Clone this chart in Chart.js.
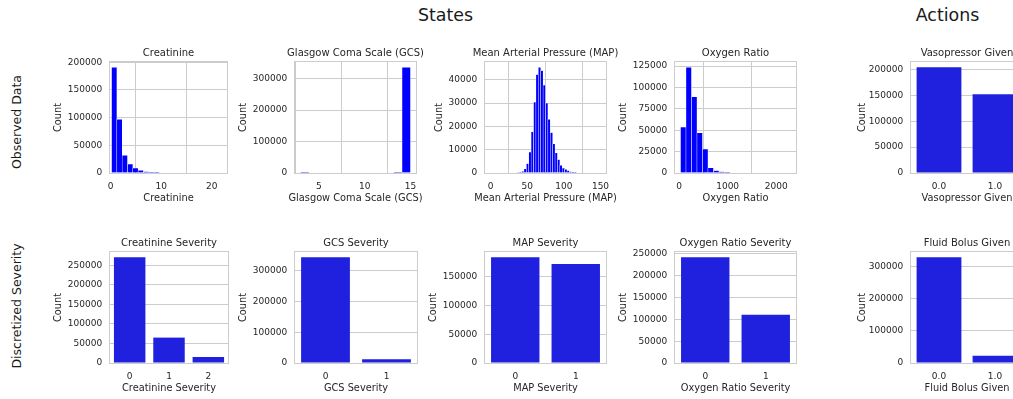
<!DOCTYPE html>
<html>
<head>
<meta charset="utf-8">
<script src="https://cdn.jsdelivr.net/npm/chart.js@4.4.1/dist/chart.umd.min.js"></script>
<style>
  html, body { margin: 0; padding: 0; background: #ffffff; }
  #fig { position: relative; width: 1013px; height: 399px; overflow: hidden; background: #ffffff; }
  #fig canvas { position: absolute; }
  .txt { position: absolute; white-space: nowrap; line-height: 1; color: #1a1a1a;
         font-family: 'DejaVu Sans', sans-serif; transform: translate(-50%, -50%); }
  .rot { transform: translate(-50%, -50%) rotate(-90deg); }
</style>
</head>
<body>
<div id="fig">
  <div class="txt" style="left:445.5px; top:16px; font-size:17.4px;">States</div>
  <div class="txt" style="left:947.5px; top:16px; font-size:17.4px;">Actions</div>
  <div class="txt rot" style="left:17px; top:122px; font-size:12.5px;">Observed Data</div>
  <div class="txt rot" style="left:17px; top:306px; font-size:12.5px;">Discretized Severity</div>
</div>
<script>
// ---- Observed data: histogram bin centres and counts ----
const creatinineBins = [0.73, 1.78, 2.83, 3.88, 4.93, 5.98, 7.03, 8.08, 9.13, 10.18, 11.23,
  12.28, 13.33, 14.38, 15.43, 16.48, 17.53, 18.58, 19.63, 20.68, 21.73];
const creatinineCounts = [191000, 97000, 32000, 16000, 9000, 4800, 2400, 1500, 700, 0, 0,
  0, 0, 0, 0, 0, 0, 0, 0, 0, 0];
const creatinineXTicks = [0, 10, 20];
const creatinineYTicks = [0, 50000, 100000, 150000, 200000];

const gcsBins = [3.46, 4.38, 5.31, 6.23, 7.15, 8.08, 9.00, 9.92, 10.85, 11.77, 12.69, 13.62, 14.54];
const gcsCounts = [3000, 0, 0, 0, 0, 0, 0, 0, 0, 0, 0, 3000, 336000];
const gcsXTicks = [5, 10, 15];
const gcsYTicks = [0, 100000, 200000, 300000];

const mapBins = [1.63, 4.89, 8.15, 11.41, 14.67, 17.93, 21.20, 24.46, 27.72, 30.98, 34.24,
  37.50, 40.76, 44.02, 47.28, 50.54, 53.80, 57.07, 60.33, 63.59, 66.85, 70.11, 73.37, 76.63,
  79.89, 83.15, 86.41, 89.67, 92.93, 96.20, 99.46, 102.72, 105.98, 109.24, 112.50, 115.76,
  119.02, 122.28, 125.54, 128.80, 132.07, 135.33, 138.59, 141.85, 145.11, 148.37];
const mapCounts = [0, 0, 0, 0, 0, 0, 0, 0, 0, 0, 0, 200, 300,
  700, 1800, 4000, 9000, 17700, 30500, 42300, 45400, 44000, 37800, 30000, 23100, 17400,
  12500, 8700, 5800, 3300, 2100, 1600, 1000, 600, 300, 150,
  0, 0, 0, 0, 0, 0, 0, 0, 0, 0];
const mapXTicks = [0, 50, 100, 150];
const mapYTicks = [0, 10000, 20000, 30000, 40000];

const oxygenBins = [87.5, 200.5, 313.5, 426.5, 539.5, 652.5, 765.5, 878.5, 991.5, 1104.5,
  1217.5, 1330.5, 1443.5, 1556.5, 1669.5, 1782.5, 1895.5, 2008.5, 2121.5, 2234.5];
const oxygenCounts = [53500, 123500, 89000, 47000, 28000, 6000, 2700, 1500, 1200, 0,
  0, 0, 0, 0, 0, 0, 0, 0, 0, 0];
const oxygenXTicks = [0, 1000, 2000];
const oxygenYTicks = [0, 25000, 50000, 75000, 100000, 125000];

// ---- Discretized severity levels ----
const creatinineSevLevels = ['0', '1', '2'];
const creatinineSevCounts = [271000, 65100, 15200];
const creatinineSevYTicks = [0, 50000, 100000, 150000, 200000, 250000];

const gcsSevLevels = ['0', '1'];
const gcsSevCounts = [344500, 12500];
const gcsSevYTicks = [0, 100000, 200000, 300000];

const mapSevLevels = ['0', '1'];
const mapSevCounts = [184200, 172300];
const mapSevYTicks = [0, 50000, 100000, 150000];

const oxygenSevLevels = ['0', '1'];
const oxygenSevCounts = [242300, 110500];
const oxygenSevYTicks = [0, 50000, 100000, 150000, 200000, 250000];

// ---- Actions ----
const actionLevels = ['0.0', '1.0'];
const vasopressorCounts = [204000, 152000];
const vasopressorYTicks = [0, 50000, 100000, 150000, 200000];
const fluidCounts = [329500, 22600];
const fluidYTicks = [0, 100000, 200000, 300000];

// ---- drawing ----
const FONT = "'DejaVu Sans', sans-serif";
const TEXT = '#262626';
const GRID = '#cccccc';
const HIST_BLUE = '#0000ff';
const COUNT_BLUE = '#2020df';
const fig = document.getElementById('fig');

// light grey frame around each plot area, on top of the bars
const framePlugin = {
  id: 'frame',
  afterDatasetsDraw(chart) {
    const { ctx, chartArea: a } = chart;
    ctx.save();
    ctx.strokeStyle = GRID;
    ctx.lineWidth = 1;
    ctx.strokeRect(a.left - 0.5, a.top - 0.5, a.right - a.left + 1, a.bottom - a.top + 1);
    ctx.restore();
  }
};

// panel title, x-axis label and "Count" label, placed relative to the plot area
const panelTextPlugin = {
  id: 'panelText',
  afterDraw(chart, args, opts) {
    const { ctx, chartArea: a } = chart;
    const cx = (a.left + a.right) / 2, cy = (a.top + a.bottom) / 2;
    ctx.save();
    ctx.fillStyle = TEXT;
    ctx.textAlign = 'center';
    ctx.textBaseline = 'middle';
    ctx.font = `10px ${FONT}`;
    ctx.fillText(opts.title, cx, a.top - 8.5);
    ctx.font = `9.8px ${FONT}`;
    ctx.fillText(opts.xTitle, cx, a.bottom + 25);
    ctx.translate(a.left - opts.countGap, cy);
    ctx.rotate(-Math.PI / 2);
    ctx.fillText('Count', 0, 0);
    ctx.restore();
  }
};

const fmt = v => String(v);

function panel(spec) {
  const yw = Math.round(spec.countGap + 8);
  const topH = 16, xh = 34, padR = 28;
  const pw = spec.r - spec.l, ph = spec.b - spec.t;
  const cv = document.createElement('canvas');
  cv.width = yw + pw + padR;
  cv.height = topH + ph + xh;
  cv.style.left = (spec.l - yw) + 'px';
  cv.style.top = (spec.t - topH) + 'px';
  fig.appendChild(cv);

  const isHist = spec.kind === 'hist';
  const dataset = isHist ? {
    data: spec.x.map((x, i) => ({ x: x, y: spec.y[i] })),
    backgroundColor: HIST_BLUE,
    borderColor: '#ffffff',
    borderWidth: 0.5,
    borderSkipped: 'bottom',
    barPercentage: 1,
    categoryPercentage: 1
  } : {
    data: spec.y,
    backgroundColor: COUNT_BLUE,
    barPercentage: 0.8,
    categoryPercentage: 1
  };

  const xTicks = { color: TEXT, font: { family: FONT, size: 9 }, padding: 8, maxRotation: 0, autoSkip: false };
  if (isHist) xTicks.callback = fmt;

  const xScale = isHist ? {
    type: 'linear', min: spec.xMin, max: spec.xMax, offset: false,
    afterBuildTicks: s => { s.ticks = spec.xTicks.map(v => ({ value: v })); },
    grid: { color: GRID, lineWidth: 1, drawTicks: false }
  } : {
    type: 'category', offset: true,
    grid: { display: false, drawTicks: false }
  };
  Object.assign(xScale, {
    border: { display: false },
    ticks: xTicks,
    title: { display: false },
    afterFit: s => { s.height = xh; }
  });

  new Chart(cv, {
    type: 'bar',
    data: isHist ? { datasets: [dataset] } : { labels: spec.labels, datasets: [dataset] },
    options: {
      responsive: false,
      animation: false,
      devicePixelRatio: 1,
      layout: { padding: { left: 0, top: topH, right: padR, bottom: 0 } },
      plugins: {
        legend: { display: false },
        tooltip: { enabled: false },
        title: { display: false },
        panelText: { title: spec.title, xTitle: spec.xTitle, countGap: spec.countGap }
      },
      scales: {
        x: xScale,
        y: {
          type: 'linear', min: 0, max: Math.max(...spec.y) * 1.05,
          afterBuildTicks: s => { s.ticks = spec.yTicks.map(v => ({ value: v })); },
          grid: { color: GRID, lineWidth: 1, drawTicks: false },
          border: { display: false },
          ticks: { color: TEXT, font: { family: FONT, size: 9 }, padding: 7.8, callback: fmt },
          title: { display: false },
          afterFit: s => { s.width = yw; }
        }
      }
    },
    plugins: [framePlugin, panelTextPlugin]
  });
}

// Row 1: observed data
panel({ kind: 'hist', l: 110, t: 62, r: 227, b: 173, countGap: 52, title: 'Creatinine', xTitle: 'Creatinine',
  x: creatinineBins, y: creatinineCounts, xMin: -0.1, xMax: 23.0, xTicks: creatinineXTicks, yTicks: creatinineYTicks });
panel({ kind: 'hist', l: 295, t: 62, r: 416, b: 173, countGap: 52, title: 'Glasgow Coma Scale (GCS)', xTitle: 'Glasgow Coma Scale (GCS)',
  x: gcsBins, y: gcsCounts, xMin: 2.4, xMax: 15.6, xTicks: gcsXTicks, yTicks: gcsYTicks });
panel({ kind: 'hist', l: 485, t: 62, r: 606, b: 173, countGap: 45.5, title: 'Mean Arterial Pressure (MAP)', xTitle: 'Mean Arterial Pressure (MAP)',
  x: mapBins, y: mapCounts, xMin: -7.5, xMax: 157.5, xTicks: mapXTicks, yTicks: mapYTicks });
panel({ kind: 'hist', l: 675, t: 62, r: 796, b: 173, countGap: 52, title: 'Oxygen Ratio', xTitle: 'Oxygen Ratio',
  x: oxygenBins, y: oxygenCounts, xMin: -82, xMax: 2405, xTicks: oxygenXTicks, yTicks: oxygenYTicks });
panel({ kind: 'count', l: 911, t: 62, r: 1023, b: 173, countGap: 49, title: 'Vasopressor Given', xTitle: 'Vasopressor Given',
  labels: actionLevels, y: vasopressorCounts, yTicks: vasopressorYTicks });

// Row 2: discretized severity
panel({ kind: 'count', l: 110, t: 252, r: 228, b: 363, countGap: 52, title: 'Creatinine Severity', xTitle: 'Creatinine Severity',
  labels: creatinineSevLevels, y: creatinineSevCounts, yTicks: creatinineSevYTicks });
panel({ kind: 'count', l: 295, t: 252, r: 417, b: 363, countGap: 52, title: 'GCS Severity', xTitle: 'GCS Severity',
  labels: gcsSevLevels, y: gcsSevCounts, yTicks: gcsSevYTicks });
panel({ kind: 'count', l: 485, t: 252, r: 606, b: 363, countGap: 52, title: 'MAP Severity', xTitle: 'MAP Severity',
  labels: mapSevLevels, y: mapSevCounts, yTicks: mapSevYTicks });
panel({ kind: 'count', l: 675, t: 252, r: 796, b: 363, countGap: 52, title: 'Oxygen Ratio Severity', xTitle: 'Oxygen Ratio Severity',
  labels: oxygenSevLevels, y: oxygenSevCounts, yTicks: oxygenSevYTicks });
panel({ kind: 'count', l: 911, t: 252, r: 1023, b: 363, countGap: 49, title: 'Fluid Bolus Given', xTitle: 'Fluid Bolus Given',
  labels: actionLevels, y: fluidCounts, yTicks: fluidYTicks });
</script>
</body>
</html>
